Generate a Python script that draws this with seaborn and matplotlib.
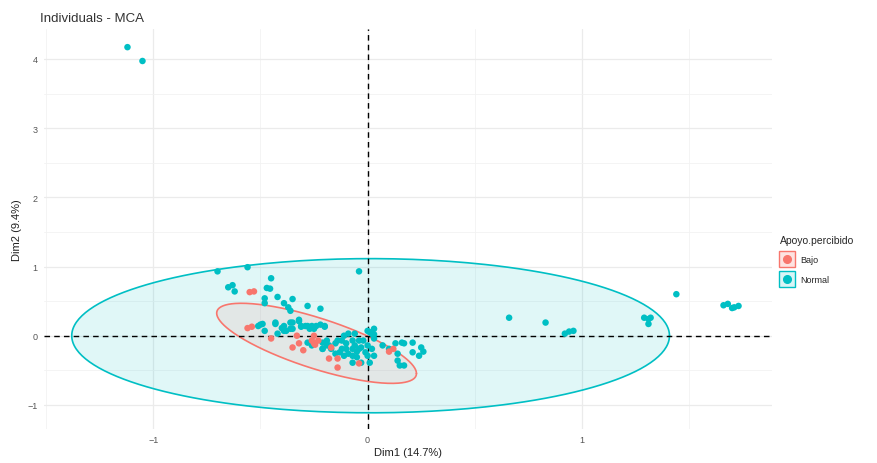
import numpy as np
import pandas as pd
import seaborn as sns
import matplotlib.pyplot as plt
from matplotlib.lines import Line2D
from matplotlib.legend_handler import HandlerTuple

# MCA individual coordinates (Dim1, Dim2)
normal_dim1 = [-1.12, -1.05, -0.70, -0.56, -0.45, -0.04, -0.65, -0.63, -0.62, -0.47,
               -0.455, -0.48, -0.48, -0.42, -0.39, -0.35, -0.37, -0.36, -0.28, -0.49,
               -0.51, -0.43, -0.39, -0.36, -0.35, -0.32, -0.31, -0.28, -0.38, -0.22,
               -0.29, -0.26, -0.24, -0.20, -0.27, 0.02, -0.50, -0.48, -0.43, -0.40,
               -0.39, -0.36, -0.35, -0.32, -0.31, -0.25, -0.22, -0.42, -0.28, -0.26,
               -0.21, -0.19, -0.18, -0.21, -0.20, -0.11, -0.09, -0.06, 0.02, 0.03,
               -0.21, -0.19, -0.17, -0.15, -0.12, -0.10, -0.07, -0.06, -0.04, -0.03,
               -0.09, -0.07, -0.05, -0.01, 0.00, 0.02, 0.03, 0.01, -0.03, -0.07,
               0.07, 0.10, 0.16, 0.17, 0.21, 0.21, 0.24, 0.14, 0.14, 0.15,
               0.17, 0.25, 0.26, 0.13, 1.44, 1.29, 1.31, 1.32, 1.31, 1.66,
               1.68, 1.70, 1.71, 1.73, 0.66, 0.83, 0.92, 0.94, 0.96, -0.14,
               -0.12, -0.07, -0.04, -0.10, -0.02, 0.00, -0.05, -0.11, -0.13, -0.15,
               0.03, 0.00, 0.01, 0.03]
normal_dim2 = [4.17, 3.97, 0.93, 0.99, 0.83, 0.93, 0.70, 0.73, 0.64, 0.69,
               0.68, 0.54, 0.47, 0.56, 0.47, 0.53, 0.41, 0.36, 0.43, 0.17,
               0.14, 0.17, 0.14, 0.19, 0.10, 0.21, 0.13, 0.14, 0.07, 0.39,
               0.14, 0.14, 0.14, 0.13, 0.10, 0.03, 0.16, 0.07, 0.19, 0.11,
               0.07, 0.10, 0.19, 0.23, 0.14, 0.10, 0.16, 0.03, -0.10, -0.14,
               -0.10, -0.07, -0.14, -0.19, 0.14, 0.00, 0.03, 0.03, 0.03, -0.04,
               -0.19, -0.14, -0.19, -0.11, -0.19, -0.19, -0.19, -0.14, -0.19, -0.17,
               -0.26, -0.29, -0.31, -0.24, -0.29, -0.19, -0.29, -0.39, -0.39, -0.39,
               -0.14, -0.19, -0.10, -0.11, -0.10, -0.24, -0.29, -0.26, -0.36, -0.43,
               -0.43, -0.17, -0.23, -0.11, 0.60, 0.26, 0.24, 0.26, 0.17, 0.44,
               0.46, 0.40, 0.41, 0.43, 0.26, 0.19, 0.03, 0.06, 0.07, -0.07,
               -0.07, -0.07, -0.07, -0.11, -0.07, -0.14, -0.23, -0.29, -0.24, -0.26,
               0.10, 0.07, 0.05, 0.02]
bajo_dim1 = [-0.53, -0.55, -0.56, -0.54, -0.45, -0.35, -0.32, -0.30, -0.25, -0.245,
             -0.23, -0.26, -0.18, -0.14, -0.14, -0.04, 0.10, 0.12, -0.25, -0.17,
             -0.33]
bajo_dim2 = [0.64, 0.63, 0.11, 0.13, -0.04, -0.17, -0.11, -0.21, -0.11, -0.13,
             -0.07, -0.07, -0.33, -0.33, -0.46, -0.40, -0.23, -0.19, 0.00, -0.17,
             0.00]

groups = ['Bajo', 'Normal']
palette = {'Bajo': '#F8766D', 'Normal': '#00BFC4'}
key_fill = {'Bajo': '#FDE3E1', 'Normal': '#D9F5F6'}

# concentration ellipses per group: centre and covariance
ell_center = {'Normal': [0.014, 0.0], 'Bajo': [-0.238, -0.11]}
ell_cov = {'Normal': [[1.943, 0.0], [0.0, 1.241]],
           'Bajo': [[0.217, -0.203], [-0.203, 0.335]]}

df = pd.concat([
    pd.DataFrame({'Dim1': normal_dim1, 'Dim2': normal_dim2, 'Apoyo.percibido': 'Normal'}),
    pd.DataFrame({'Dim1': bajo_dim1, 'Dim2': bajo_dim2, 'Apoyo.percibido': 'Bajo'}),
], ignore_index=True)

sns.set_theme(style='whitegrid')
plt.rcParams['font.family'] = ['Liberation Sans', 'DejaVu Sans']

fig = plt.figure(figsize=(8.77, 4.64), dpi=100)
ax = fig.add_axes([0.050, 0.073, 0.830, 0.862])

# ellipses
t = np.linspace(0, 2 * np.pi, 300)
circle = np.vstack([np.cos(t), np.sin(t)])
for g in ['Normal', 'Bajo']:
    L = np.linalg.cholesky(np.array(ell_cov[g]))
    pts = L @ circle
    ex = pts[0] + ell_center[g][0]
    ey = pts[1] + ell_center[g][1]
    ax.fill(ex, ey, color=palette[g], alpha=0.12, lw=0, zorder=1)
    ax.plot(ex, ey, color=palette[g], lw=1.2, zorder=2)

ax.axhline(0, color='black', ls=(0, (4, 3)), lw=1.0, zorder=3)
ax.axvline(0, color='black', ls=(0, (4, 3)), lw=1.0, zorder=3)

sns.scatterplot(data=df, x='Dim1', y='Dim2', hue='Apoyo.percibido', palette=palette,
                s=22, linewidth=0, ax=ax, legend=False, zorder=4)

ax.set_xlim(-1.51, 1.885)
ax.set_ylim(-1.35, 4.43)
ax.set_xticks([-1, 0, 1])
ax.set_yticks([-1, 0, 1, 2, 3, 4])
ax.set_xticks([-1.5, -0.5, 0.5, 1.5], minor=True)
ax.set_yticks([-0.5, 0.5, 1.5, 2.5, 3.5], minor=True)
ax.set_facecolor('white')
ax.grid(which='major', color='#EBEBEB', lw=0.9)
ax.grid(which='minor', color='#F2F2F2', lw=0.6)
for s in ax.spines.values():
    s.set_visible(False)
ax.tick_params(axis='both', which='major', labelsize=6.5, colors='#555555',
               length=2.5, width=0.8, pad=2, color='#333333')
ax.tick_params(which='minor', length=0)
ax.set_xlabel('Dim1 (14.7%)', fontsize=8, color='#222222', labelpad=2)
ax.set_ylabel('Dim2 (9.4%)', fontsize=8, color='#222222', labelpad=4)
ax.set_title('Individuals - MCA', fontsize=9.5, color='#333333', loc='left',
             x=-0.005, pad=6)

handles = [(Line2D([], [], marker='s', ls='', markersize=12, markerfacecolor=key_fill[g],
                   markeredgecolor=palette[g], markeredgewidth=1.0),
            Line2D([], [], marker='o', color=palette[g], ls='', markersize=5.5))
           for g in groups]
leg = fig.legend(handles, groups, title='Apoyo.percibido', loc='upper left',
                 bbox_to_anchor=(0.885, 0.499), frameon=False, fontsize=6.5,
                 title_fontsize=7.5, handler_map={tuple: HandlerTuple(ndivide=1, pad=0)},
                 handlelength=1.6, labelspacing=1.25, handletextpad=0.7,
                 borderaxespad=0)
leg._legend_box.align = 'left'
leg._legend_box.sep = 7

fig.savefig('out.png', dpi=100)
